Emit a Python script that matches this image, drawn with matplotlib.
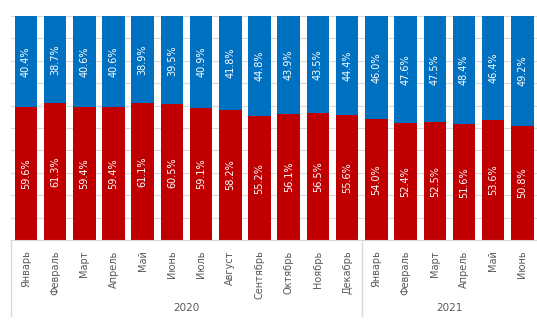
import matplotlib.pyplot as plt

months = ["Январь", "Февраль", "Март", "Апрель", "Май", "Июнь", "Июль", "Август",
          "Сентябрь", "Октябрь", "Ноябрь", "Декабрь",
          "Январь", "Февраль", "Март", "Апрель", "Май", "Июнь"]
years = ["2020", "2021"]
year_sizes = [12, 6]
red_share = [59.6, 61.3, 59.4, 59.4, 61.1, 60.5, 59.1, 58.2, 55.2, 56.1, 56.5, 55.6,
             54.0, 52.4, 52.5, 51.6, 53.6, 50.8]
blue_share = [40.4, 38.7, 40.6, 40.6, 38.9, 39.5, 40.9, 41.8, 44.8, 43.9, 43.5, 44.4,
              46.0, 47.6, 47.5, 48.4, 46.4, 49.2]

RED = "#C00000"
BLUE = "#0070C0"
GREY = "#595959"

fig = plt.figure(figsize=(5.37, 3.30), dpi=100)
ax = fig.add_axes([0.021, 0.2727, 0.979, 0.6788])

x = list(range(len(months)))
ax.bar(x, red_share, width=0.77, color=RED, zorder=2)
ax.bar(x, blue_share, width=0.77, bottom=red_share, color=BLUE, zorder=2)

for i in x:
    ax.text(i, red_share[i] / 2, f"{red_share[i]:.1f}%", rotation=90,
            ha="center", va="center", color="white", fontsize=7)
    ax.text(i, red_share[i] + blue_share[i] / 2, f"{blue_share[i]:.1f}%", rotation=90,
            ha="center", va="center", color="white", fontsize=7)

ax.set_xlim(-0.5, len(months) - 0.5)
ax.set_ylim(0, 100)
ax.set_yticks(range(0, 101, 10))
ax.yaxis.grid(True, color="#D9D9D9", linewidth=0.8, zorder=0)
ax.set_yticklabels([])
ax.tick_params(left=False, bottom=False)
for side in ["top", "right", "left"]:
    ax.spines[side].set_visible(False)
ax.spines["bottom"].set_color("#D9D9D9")

ax.set_xticks(x)
ax.set_xticklabels(months, rotation=90, color=GREY, fontsize=7, va="top")
ax.tick_params(axis="x", pad=4)

# year groups under the month labels
start = 0
edges = [-0.5]
for year, n in zip(years, year_sizes):
    center = start + (n - 1) / 2
    ax.text(center, -30.5, year, ha="center", va="center", color=GREY, fontsize=7.5,
            clip_on=False)
    start += n
    edges.append(start - 0.5)
for e in edges[:-1]:
    ax.plot([e, e], [0, -34], color="#D9D9D9", linewidth=1, clip_on=False)

fig.savefig("out.png", dpi=100)
